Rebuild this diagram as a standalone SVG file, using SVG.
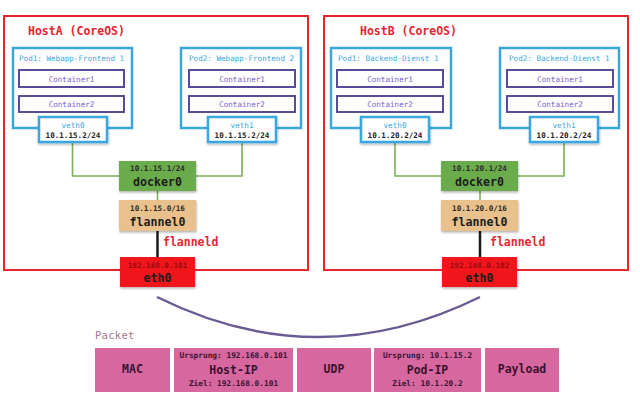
<svg xmlns="http://www.w3.org/2000/svg" width="640" height="402" viewBox="0 0 640 402">
<defs>
<filter id="sh" x="-10%" y="-10%" width="125%" height="135%">
<feDropShadow dx="0.5" dy="1.5" stdDeviation="1.2" flood-color="#000" flood-opacity="0.3"/>
</filter>
<style>
text{font-family:"DejaVu Sans Mono","Liberation Mono",monospace;}
.host{fill:none;stroke:#e8262a;stroke-width:2;}
.htitle{fill:#e3262f;font-size:11.5px;font-weight:bold;}
.pod{fill:#fff;stroke:#3ba7e1;stroke-width:2.5;}
.plabel{fill:#3ba7e1;font-size:7.6px;}
.cont{fill:#fff;stroke:#5a4a9b;stroke-width:2;}
.ctext{fill:#7c5cc9;font-size:7.6px;text-anchor:middle;}
.veth{fill:#fff;stroke:#3ba7e1;stroke-width:2.5;}
.vname{fill:#3ba7e1;font-size:7.7px;text-anchor:middle;}
.vip{fill:#222;font-size:7.6px;font-weight:bold;text-anchor:middle;}
.dock{fill:#6aab4c;}
.flan{fill:#e9c18d;}
.eth{fill:#f0141e;}
.sip{fill:#2a2a2a;font-size:7.6px;font-weight:bold;text-anchor:middle;}
.eip{fill:#9b0a10;font-size:7.6px;font-weight:bold;text-anchor:middle;}
.big{fill:#1c1c1c;font-size:11.6px;font-weight:bold;text-anchor:middle;}
.glink{fill:none;stroke:#7ab05a;stroke-width:1.6;}
.blink{fill:none;stroke:#1a1a1a;stroke-width:2.5;}
.fld{fill:#e3262f;font-size:11.5px;font-weight:bold;}
.pk{fill:#d6689f;}
.pktxt{fill:#3a1230;font-size:11.5px;font-weight:bold;text-anchor:middle;}
.pksm{fill:#3a1230;font-size:7.8px;font-weight:bold;text-anchor:middle;}
</style>
</defs>
<rect width="640" height="402" fill="#fff"/>

<g id="hostA">
<rect class="host" x="4" y="16" width="304" height="254"/>
<text class="htitle" x="28" y="35">HostA (CoreOS)</text>
</g>
<g id="hostB">
<rect class="host" x="324" y="16" width="304" height="254"/>
<text class="htitle" x="360" y="35">HostB (CoreOS)</text>
</g>

<g id="connectors">
<path class="glink" d="M72.5,142 V176 H119"/>
<path class="glink" d="M242,142 V176 H196"/>
<path class="glink" d="M157.5,191 V200"/>
<path class="blink" d="M157.5,231 V257"/>
<path class="glink" d="M395,142 V176 H441"/>
<path class="glink" d="M564,142 V176 H518"/>
<path class="glink" d="M480,191 V200"/>
<path class="blink" d="M480,231 V257"/>
<path d="M157,297 Q318,377 480,297" fill="none" stroke="#6b5b95" stroke-width="2.5"/>
</g>

<g id="podA1">
<rect class="pod" x="13" y="48" width="119" height="80"/>
<text class="plabel" x="19" y="61">Pod1: Webapp-Frontend 1</text>
<rect class="cont" x="19" y="70" width="105" height="17"/>
<text class="ctext" x="71.5" y="81.5">Container1</text>
<rect class="cont" x="19" y="96" width="105" height="16"/>
<text class="ctext" x="71.5" y="106.5">Container2</text>
</g>
<g id="vethA0">
<rect class="veth" x="39" y="117" width="68" height="25" filter="url(#sh)"/>
<text class="vname" x="73" y="128">veth0</text>
<text class="vip" x="73" y="138">10.1.15.2/24</text>
</g>
<g id="podA2">
<rect class="pod" x="181" y="48" width="120" height="80"/>
<text class="plabel" x="189" y="61">Pod2: Webapp-Frontend 2</text>
<rect class="cont" x="189" y="70" width="106" height="17"/>
<text class="ctext" x="242" y="81.5">Container1</text>
<rect class="cont" x="189" y="96" width="106" height="16"/>
<text class="ctext" x="242" y="106.5">Container2</text>
</g>
<g id="vethA1">
<rect class="veth" x="208" y="117" width="68" height="25" filter="url(#sh)"/>
<text class="vname" x="242" y="128">veth1</text>
<text class="vip" x="242" y="138">10.1.15.2/24</text>
</g>
<g id="dockerA">
<rect class="dock" x="119" y="161" width="77" height="30" filter="url(#sh)"/>
<text class="sip" x="157.5" y="171">10.1.15.1/24</text>
<text class="big" x="157.5" y="186">docker0</text>
</g>
<g id="flannelA">
<rect class="flan" x="119" y="200" width="77" height="31" filter="url(#sh)"/>
<text class="sip" x="157.5" y="210.5">10.1.15.0/16</text>
<text class="big" x="157.5" y="226">flannel0</text>
</g>
<text class="fld" x="163" y="246">flanneld</text>
<g id="ethA">
<rect class="eth" x="120" y="257" width="75" height="30" filter="url(#sh)"/>
<text class="eip" x="157.5" y="267.5">192.168.0.101</text>
<text class="big" x="157.5" y="282">eth0</text>
</g>

<g id="podB1">
<rect class="pod" x="331" y="48" width="120" height="80"/>
<text class="plabel" x="338" y="61">Pod1: Backend-Dienst 1</text>
<rect class="cont" x="337" y="70" width="106" height="17"/>
<text class="ctext" x="390" y="81.5">Container1</text>
<rect class="cont" x="337" y="96" width="106" height="16"/>
<text class="ctext" x="390" y="106.5">Container2</text>
</g>
<g id="vethB0">
<rect class="veth" x="361" y="117" width="68" height="25" filter="url(#sh)"/>
<text class="vname" x="395" y="128">veth0</text>
<text class="vip" x="395" y="138">10.1.20.2/24</text>
</g>
<g id="podB2">
<rect class="pod" x="500" y="48" width="119" height="80"/>
<text class="plabel" x="509" y="61">Pod2: Backend-Dienst 1</text>
<rect class="cont" x="507" y="70" width="106" height="17"/>
<text class="ctext" x="560" y="81.5">Container1</text>
<rect class="cont" x="507" y="96" width="106" height="16"/>
<text class="ctext" x="560" y="106.5">Container2</text>
</g>
<g id="vethB1">
<rect class="veth" x="530" y="117" width="68" height="25" filter="url(#sh)"/>
<text class="vname" x="564" y="128">veth1</text>
<text class="vip" x="564" y="138">10.1.20.2/24</text>
</g>
<g id="dockerB">
<rect class="dock" x="441" y="161" width="77" height="30" filter="url(#sh)"/>
<text class="sip" x="479.5" y="171">10.1.20.1/24</text>
<text class="big" x="479.5" y="186">docker0</text>
</g>
<g id="flannelB">
<rect class="flan" x="441" y="200" width="77" height="31" filter="url(#sh)"/>
<text class="sip" x="479.5" y="210.5">10.1.20.0/16</text>
<text class="big" x="479.5" y="226">flannel0</text>
</g>
<text class="fld" x="490" y="246">flanneld</text>
<g id="ethB">
<rect class="eth" x="442" y="257" width="75" height="30" filter="url(#sh)"/>
<text class="eip" x="479.5" y="267.5">192.168.0.102</text>
<text class="big" x="479.5" y="282">eth0</text>
</g>

<g id="packet">
<text x="95" y="339" fill="#a8748e" font-size="10.5px" letter-spacing="0.3">Packet</text>
<rect class="pk" x="95" y="348" width="75" height="44"/>
<text class="pktxt" x="132.5" y="373">MAC</text>
<rect class="pk" x="174" y="348" width="119" height="44"/>
<text class="pksm" x="233.5" y="358">Ursprung: 192.168.0.101</text>
<text class="pktxt" x="233.5" y="373.5">Host-IP</text>
<text class="pksm" x="233.5" y="386">Ziel: 192.168.0.101</text>
<rect class="pk" x="297" y="348" width="74" height="44"/>
<text class="pktxt" x="334" y="373">UDP</text>
<rect class="pk" x="374" y="348" width="107" height="44"/>
<text class="pksm" x="427.5" y="358">Ursprung: 10.1.15.2</text>
<text class="pktxt" x="427.5" y="373.5">Pod-IP</text>
<text class="pksm" x="427.5" y="386">Ziel: 10.1.20.2</text>
<rect class="pk" x="485" y="348" width="74" height="44"/>
<text class="pktxt" x="522" y="373">Payload</text>
</g>
</svg>
